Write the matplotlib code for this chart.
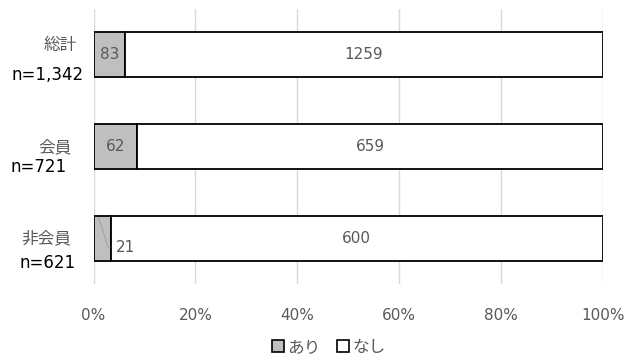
import matplotlib
matplotlib.use("Agg")
import matplotlib.pyplot as plt
from matplotlib.patches import Patch

plt.rcParams['font.family'] = ['DejaVu Sans', 'Noto Sans CJK JP']

categories = ["総計", "会員", "非会員"]
totals_label = ["n=1,342", "n=721", "n=621"]
ari = [83, 62, 21]
nashi = [1259, 659, 600]
xticks = [0, 0.2, 0.4, 0.6, 0.8, 1.0]
xticklabels = ["0%", "20%", "40%", "60%", "80%", "100%"]

W, H = 626, 358
fig = plt.figure(figsize=(W / 100, H / 100), dpi=100)
ax = fig.add_axes([93.5 / W, 1 - 284 / H, (603 - 93.5) / W, 275 / H])

totals = [a + b for a, b in zip(ari, nashi)]
p_ari = [a / t for a, t in zip(ari, totals)]
p_nashi = [b / t for b, t in zip(nashi, totals)]
ypos = list(range(len(categories)))

grey = "#BFBFBF"
ax.barh(ypos, p_ari, height=0.49, color=grey, edgecolor="black", linewidth=1.3, zorder=3)
ax.barh(ypos, p_nashi, left=p_ari, height=0.49, color="white", edgecolor="black", linewidth=1.3, zorder=3)

txtc = "#595959"
fs = 11
for i in ypos:
    if p_ari[i] > 0.04:
        ax.text(p_ari[i] / 2, i, str(ari[i]), ha="center", va="center", fontsize=fs, color=txtc, zorder=4)
    else:
        ax.annotate(str(ari[i]), xy=(p_ari[i] * 0.3, i - 0.22), xytext=(0.062, i + 0.1),
                    ha="center", va="center", fontsize=fs, color=txtc, zorder=4,
                    arrowprops=dict(arrowstyle="-", color="#A6A6A6", lw=0.9,
                                    shrinkA=2, shrinkB=0,
                                    connectionstyle="angle,angleA=0,angleB=-72,rad=0"))
    ax.text(p_ari[i] + p_nashi[i] / 2, i, str(nashi[i]), ha="center", va="center",
            fontsize=fs, color=txtc, zorder=4)

ax.set_xlim(0, 1)
ax.set_ylim(len(categories) - 0.5, -0.5)
ax.set_xticks(xticks)
ax.set_xticklabels(xticklabels, fontsize=11, color=txtc)
ax.tick_params(axis="x", length=0, pad=17)
ax.set_yticks([])
for s in ax.spines.values():
    s.set_visible(False)
ax.grid(axis="x", color="#D9D9D9", linewidth=1, zorder=0)

# category labels (two lines)
line1_px = [(60.5, 45), (54.5, 147), (46.5, 238)]
line2_px = [(47.5, 75), (39, 167), (47.5, 263)]
for i in ypos:
    x1, y1 = line1_px[i]
    x2, y2 = line2_px[i]
    fig.text(x1 / W, 1 - y1 / H, categories[i], ha="center", va="center", fontsize=12, color=txtc)
    fig.text(x2 / W, 1 - y2 / H, totals_label[i], ha="center", va="center", fontsize=12, color="black")

handles = [Patch(facecolor=grey, edgecolor="black", linewidth=1.2),
           Patch(facecolor="white", edgecolor="black", linewidth=1.2)]
fig.legend(handles, ["あり", "なし"], loc="center", bbox_to_anchor=(0.525, 1 - 347 / H),
           ncol=2, frameon=False, fontsize=12, handlelength=0.7, handleheight=0.7,
           handletextpad=0.2, columnspacing=1.0, labelcolor=txtc)

fig.savefig("out.png", dpi=100)
